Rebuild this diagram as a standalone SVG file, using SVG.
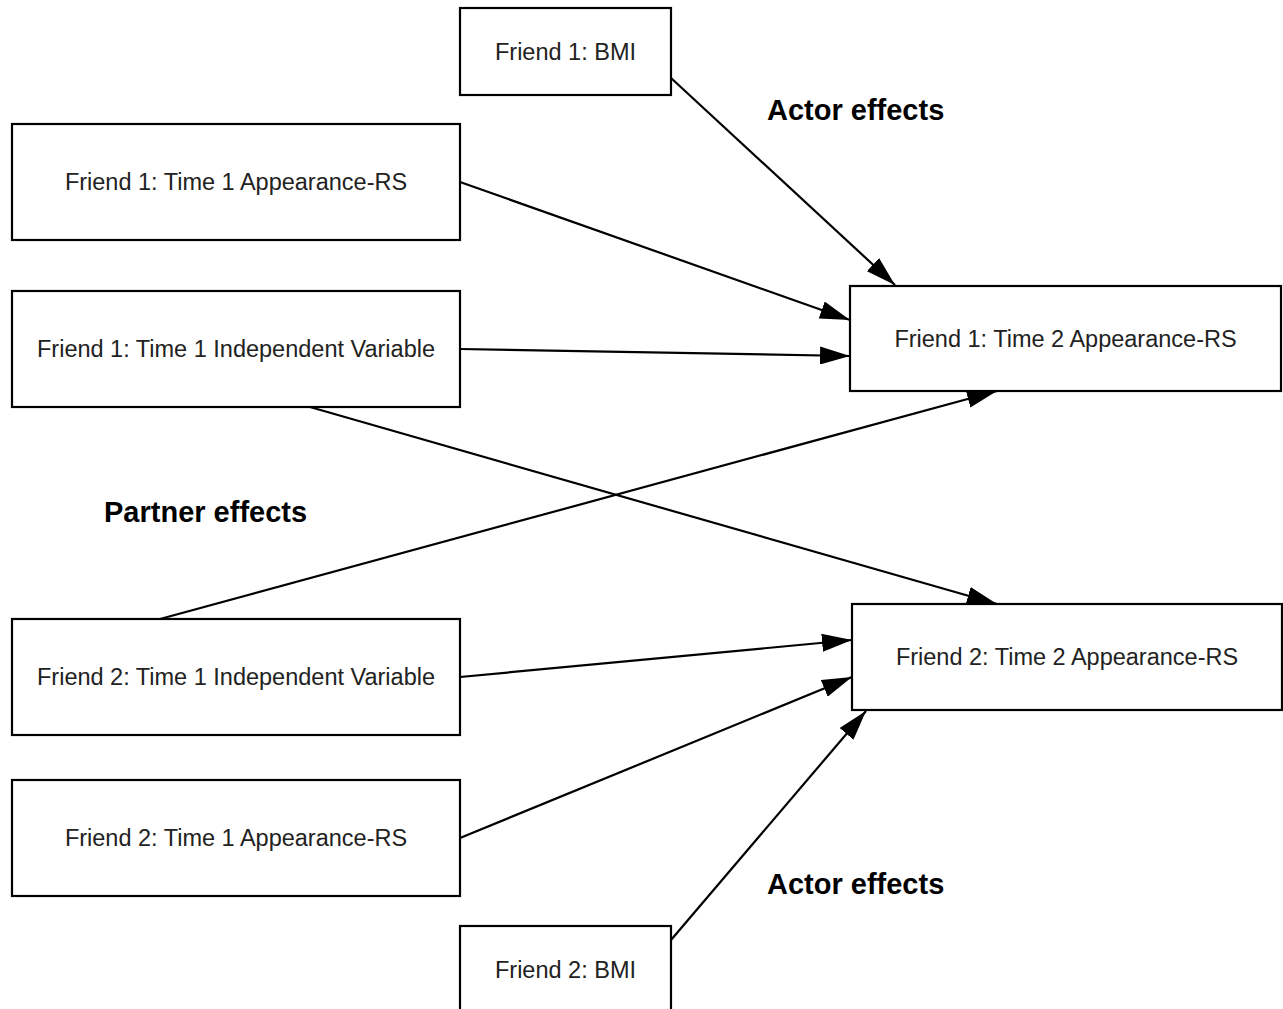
<svg xmlns="http://www.w3.org/2000/svg" width="1283" height="1009" viewBox="0 0 1283 1009">
<style>
.box{fill:#fff;stroke:#000;stroke-width:2.2}
.t{font-family:"Liberation Sans",Arial,sans-serif;font-size:23.5px;fill:#222;text-anchor:middle;dominant-baseline:central}
.lbl{font-family:"Liberation Sans",Arial,sans-serif;font-size:29px;font-weight:bold;fill:#000}
.e{stroke:#000;stroke-width:2.2;fill:none;marker-end:url(#ah)}
</style>
<defs>
<marker id="ah" viewBox="0 0 30 18" refX="30" refY="9" markerWidth="30" markerHeight="18" markerUnits="userSpaceOnUse" orient="auto">
<path d="M0,0 L30,9 L0,18 z" fill="#000"/>
</marker>
</defs>
<rect width="1283" height="1009" fill="#fff"/>
<g id="connectors">
<line class="e" x1="671" y1="78" x2="895" y2="285"/>
<line class="e" x1="460" y1="182" x2="850" y2="320"/>
<line class="e" x1="460" y1="349" x2="850" y2="356"/>
<line class="e" x1="310" y1="407" x2="997" y2="604"/>
<line class="e" x1="160" y1="619" x2="997" y2="391"/>
<line class="e" x1="460" y1="677" x2="852" y2="640"/>
<line class="e" x1="460" y1="838" x2="852" y2="677"/>
<line class="e" x1="671" y1="940" x2="866" y2="711"/>
</g>
<g id="n-bmi1"><rect class="box" x="460" y="8" width="211" height="87"/><text class="t" x="565.5" y="51.5">Friend 1: BMI</text></g>
<g id="n-f1t1app"><rect class="box" x="12" y="124" width="448" height="116"/><text class="t" x="236" y="182">Friend 1: Time 1 Appearance-RS</text></g>
<g id="n-f1t1iv"><rect class="box" x="12" y="291" width="448" height="116"/><text class="t" x="236" y="349">Friend 1: Time 1 Independent Variable</text></g>
<g id="n-f2t1iv"><rect class="box" x="12" y="619" width="448" height="116"/><text class="t" x="236" y="677">Friend 2: Time 1 Independent Variable</text></g>
<g id="n-f2t1app"><rect class="box" x="12" y="780" width="448" height="116"/><text class="t" x="236" y="838">Friend 2: Time 1 Appearance-RS</text></g>
<g id="n-bmi2"><rect class="box" x="460" y="926" width="211" height="90"/><text class="t" x="565.5" y="969.5">Friend 2: BMI</text></g>
<g id="n-f1t2"><rect class="box" x="850" y="286" width="431" height="105"/><text class="t" x="1065.5" y="338.5">Friend 1: Time 2 Appearance-RS</text></g>
<g id="n-f2t2"><rect class="box" x="852" y="604" width="430" height="106"/><text class="t" x="1067" y="657">Friend 2: Time 2 Appearance-RS</text></g>
<g id="labels">
<text class="lbl" x="767" y="120">Actor effects</text>
<text class="lbl" x="104" y="522">Partner effects</text>
<text class="lbl" x="767" y="894">Actor effects</text>
</g>
</svg>
